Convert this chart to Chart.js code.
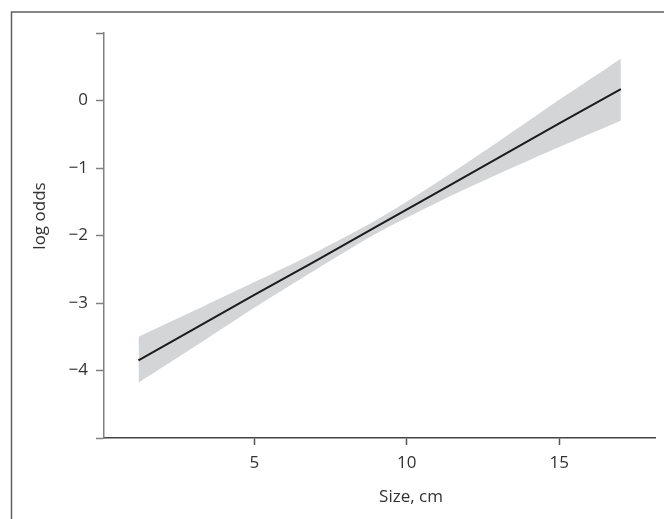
<!DOCTYPE html>
<html><head><meta charset="utf-8">
<script src="https://cdn.jsdelivr.net/npm/chart.js@4.4.1/dist/chart.umd.min.js"></script>
<style>html,body{margin:0;padding:0;background:#fff;}#wrap{width:664px;height:519px;position:relative;}</style>
</head><body><div id="wrap"><canvas id="c" width="664" height="519"></canvas></div>
<script>
// Data
const sizes      = [1.2, 3, 5, 7, 9, 11, 13, 15, 17.02];
const fitLogOdds = [-3.85, -3.39, -2.88, -2.38, -1.87, -1.36, -0.85, -0.34, 0.17];
const upperCI    = [-3.50, -3.12, -2.69, -2.25, -1.77, -1.21, -0.61, 0.01, 0.62];
const lowerCI    = [-4.18, -3.66, -3.07, -2.51, -1.97, -1.51, -1.09, -0.69, -0.30];
const xTicks = [5, 10, 15];
const yTicks = [1, 0, -1, -2, -3, -4, -5];
const yTickLabels = ['', '0', '\u22121', '\u22122', '\u22123', '\u22124', ''];
const xTitle = 'Size, cm';
const yTitle = 'log odds';

const fontFamily = '"Open Sans", "DejaVu Sans", sans-serif';
const font = {family: fontFamily, size: 17};
const textColor = '#333333';

const framePlugin = {
  id: 'frame',
  beforeDraw(chart) {
    const ctx = chart.ctx;
    ctx.save();
    ctx.strokeStyle = '#5f5f5f';
    ctx.lineWidth = 1.5;
    ctx.beginPath();
    ctx.moveTo(11.5, 519);
    ctx.lineTo(11.5, 12);
    ctx.lineTo(664, 12);
    ctx.stroke();
    ctx.restore();
  },
  afterDraw(chart) {
    const ctx = chart.ctx;
    ctx.save();
    ctx.fillStyle = textColor;
    ctx.font = '17px ' + fontFamily;
    ctx.textAlign = 'center';
    ctx.textBaseline = 'middle';
    ctx.fillText(xTitle, 411, 497);
    ctx.translate(40.5, 216);
    ctx.rotate(-Math.PI / 2);
    ctx.fillText(yTitle, 0, 0);
    ctx.restore();
  }
};

new Chart(document.getElementById('c'), {
  type: 'line',
  data: {
    datasets: [
      {data: sizes.map((x, i) => ({x: x, y: fitLogOdds[i]})), borderColor: '#1c1c1c', borderWidth: 2, pointRadius: 0, fill: false},
      {data: sizes.map((x, i) => ({x: x, y: upperCI[i]})), borderWidth: 0, borderColor: 'rgba(0,0,0,0)', pointRadius: 0, fill: '+1', backgroundColor: '#d4d5d7', tension: 0.3},
      {data: sizes.map((x, i) => ({x: x, y: lowerCI[i]})), borderWidth: 0, borderColor: 'rgba(0,0,0,0)', pointRadius: 0, fill: false, tension: 0.3}
    ]
  },
  options: {
    responsive: false,
    animation: false,
    events: [],
    layout: {padding: {top: 33, right: 9, left: 0, bottom: 0}},
    plugins: {legend: {display: false}, tooltip: {enabled: false}},
    scales: {
      x: {
        type: 'linear', min: 0.07, max: 18.14,
        afterBuildTicks(s) { s.ticks = xTicks.map(v => ({value: v})); },
        afterFit(s) { s.height = 81; },
        grid: {display: true, drawOnChartArea: false, drawTicks: true, tickLength: 7, tickColor: '#555', tickWidth: 1.5},
        border: {display: true, color: '#444', width: 1.5},
        ticks: {font: font, color: textColor, padding: 8, maxRotation: 0, autoSkip: false},
        title: {display: false}
      },
      y: {
        type: 'linear', min: -5, max: 1,
        afterBuildTicks(s) { s.ticks = yTicks.map(v => ({value: v})); },
        afterFit(s) { s.width = 104; },
        grid: {display: true, drawOnChartArea: false, drawTicks: true, tickLength: 8, tickColor: '#808080', tickWidth: 1.5},
        border: {display: true, color: '#808080', width: 1.5},
        ticks: {font: font, color: textColor, padding: 8, autoSkip: false,
                callback: (v, i) => yTickLabels[i]},
        title: {display: false}
      }
    }
  },
  plugins: [framePlugin]
});
</script></body></html>
